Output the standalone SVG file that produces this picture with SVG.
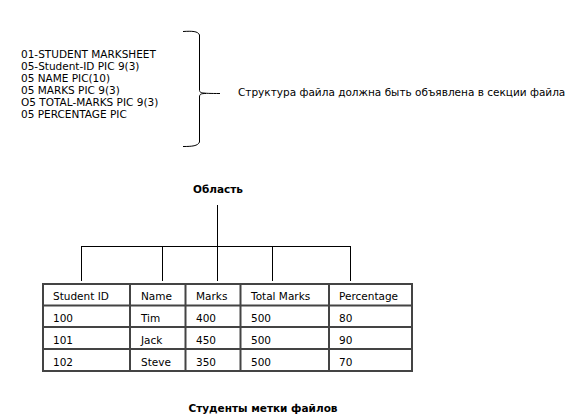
<svg xmlns="http://www.w3.org/2000/svg" width="569" height="418" viewBox="0 0 569 418">
<style>
text{font-family:"DejaVu Sans","Liberation Sans",sans-serif;font-size:10.5px;fill:#000}
.b{font-weight:bold}
.ln{stroke:#000;stroke-width:1;fill:none}
.tb{stroke:#444;stroke-width:2;fill:none}
</style>
<rect width="569" height="418" fill="#fff"/>
<g id="definition">
<text x="21" y="58">01-STUDENT MARKSHEET</text>
<text x="21" y="70">05-Student-ID PIC 9(3)</text>
<text x="21" y="82">05 NAME PIC(10)</text>
<text x="21" y="94">05 MARKS PIC 9(3)</text>
<text x="21" y="106">O5 TOTAL-MARKS PIC 9(3)</text>
<text x="21" y="118">05 PERCENTAGE PIC</text>
</g>
<g id="brace">
<path class="ln" d="M183,31.5 C192,31 198,31 199.5,35 L199.5,90 C199.5,93 201,93.5 220,93.5 M199.5,97 C199.5,94 201,93.5 206,93.5 M199.5,97 L199.5,142 C198,146 192,146.5 183,146.5"/>
</g>
<g id="note">
<text x="238" y="96">Структура файла должна быть объявлена в секции файла</text>
</g>
<g id="area">
<text class="b" x="218" y="193" text-anchor="middle">Область</text>
</g>
<g id="connectors">
<path class="ln" d="M217.5,205 V246 M81.5,246.5 H350.5 M81.5,246 V281 M162.5,246 V281 M217.5,246 V281 M272.5,246 V281 M350.5,246 V281"/>
</g>
<g id="table">
<rect class="tb" x="43" y="284" width="369" height="87"/>
<path class="tb" d="M43,305.5 H412 M43,327 H412 M43,349 H412 M130,284 V371 M185.5,284 V371 M240.5,284 V371 M329,284 V371"/>
<text x="53" y="300">Student ID</text>
<text x="141" y="300">Name</text>
<text x="196" y="300">Marks</text>
<text x="251" y="300">Total Marks</text>
<text x="339" y="300">Percentage</text>
<text x="53" y="322">100</text>
<text x="141" y="322">Tim</text>
<text x="196" y="322">400</text>
<text x="251" y="322">500</text>
<text x="339" y="322">80</text>
<text x="53" y="344">101</text>
<text x="141" y="344">Jack</text>
<text x="196" y="344">450</text>
<text x="251" y="344">500</text>
<text x="339" y="344">90</text>
<text x="53" y="366">102</text>
<text x="141" y="366">Steve</text>
<text x="196" y="366">350</text>
<text x="251" y="366">500</text>
<text x="339" y="366">70</text>
</g>
<g id="caption">
<text class="b" x="263" y="412" text-anchor="middle">Студенты метки файлов</text>
</g>
</svg>
